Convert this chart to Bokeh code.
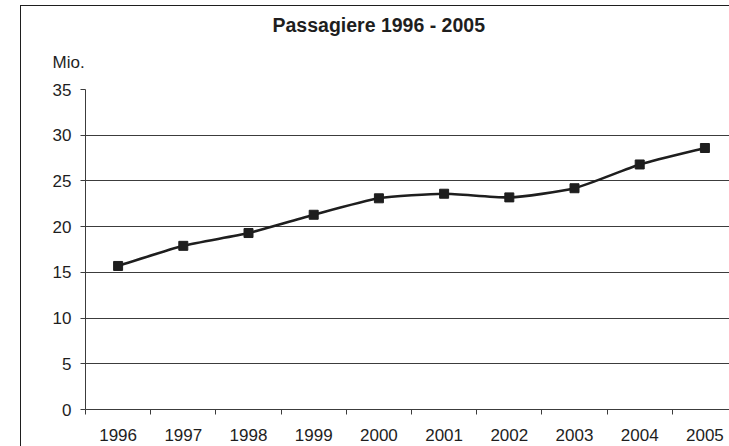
from bokeh.plotting import figure
from bokeh.models import Range1d, FixedTicker, Title, GlobalInlineStyleSheet
from bokeh.embed import file_html
from bokeh.resources import INLINE

# Passengers per year, in millions
years = ["1996", "1997", "1998", "1999", "2000", "2001", "2002", "2003", "2004", "2005"]
passengers = [15.7, 17.9, 19.3, 21.3, 23.1, 23.6, 23.2, 24.2, 26.8, 28.6]
y_ticks = [0, 5, 10, 15, 20, 25, 30, 35]

FONT = "Liberation Sans"
INK = "#1e1e1e"
GRID = "#3c3c3c"

# category centres on a numeric axis (one unit per year)
xs = [i + 0.5 for i in range(len(years))]

p = figure(width=729, height=446, output_backend="svg", toolbar_location=None,
           x_range=Range1d(0, 9.877), y_range=Range1d(0, 35),
           min_border_left=85, min_border_right=0, min_border_top=89,
           min_border_bottom=37, title=None)
p.outline_line_color = None
p.background_fill_color = "white"
p.border_fill_color = None
# chart frame: thin left and top edges painted behind the transparent border area
p.styles = {"background": (f"linear-gradient({INK}, {INK}) 20px 5px / 1px 100% no-repeat, "
                           f"linear-gradient({INK}, {INK}) 20px 5px / 100% 1px no-repeat, "
                           "#ffffff")}
# the page itself never scrolls
p.stylesheets = [GlobalInlineStyleSheet(css="html, body { margin: 0; overflow: hidden; }")]

# y axis
p.yaxis.ticker = FixedTicker(ticks=y_ticks)
p.yaxis.axis_line_color = GRID
p.yaxis.major_tick_line_color = GRID
p.yaxis.major_tick_out = 5
p.yaxis.major_tick_in = 0
p.yaxis.minor_tick_line_color = None
p.yaxis.major_label_standoff = 9
p.yaxis.major_label_text_font = FONT
p.yaxis.major_label_text_font_size = "17px"
p.yaxis.major_label_text_color = INK

# x axis: labels centred on each year, small ticks between years
p.xaxis.ticker = FixedTicker(ticks=xs, minor_ticks=list(range(0, len(years))))
p.xaxis.major_label_overrides = {x: y for x, y in zip(xs, years)}
p.xaxis.axis_line_color = GRID
p.xaxis.major_tick_line_color = None
p.xaxis.major_tick_out = 0
p.xaxis.major_tick_in = 0
p.xaxis.minor_tick_line_color = GRID
p.xaxis.minor_tick_out = 5
p.xaxis.minor_tick_in = 0
p.xaxis.major_label_standoff = 14
p.xaxis.major_label_text_font = FONT
p.xaxis.major_label_text_font_size = "17px"
p.xaxis.major_label_text_color = INK

p.xgrid.visible = False
p.ygrid.grid_line_color = GRID
p.ygrid.grid_line_width = 1

# lightly smoothed line through the yearly values (Bezier segments)
k = 1 / 10
n = len(xs)
x0, y0, x1, y1, cx0, cy0, cx1, cy1 = [], [], [], [], [], [], [], []
for i in range(n - 1):
    xp, yp = (xs[i - 1], passengers[i - 1]) if i > 0 else (xs[i], passengers[i])
    xn, yn = (xs[i + 2], passengers[i + 2]) if i + 2 < n else (xs[i + 1], passengers[i + 1])
    x0.append(xs[i]); y0.append(passengers[i])
    x1.append(xs[i + 1]); y1.append(passengers[i + 1])
    cx0.append(xs[i] + (xs[i + 1] - xp) * k); cy0.append(passengers[i] + (passengers[i + 1] - yp) * k)
    cx1.append(xs[i + 1] - (xn - xs[i]) * k); cy1.append(passengers[i + 1] - (yn - passengers[i]) * k)

p.bezier(x0=x0, y0=y0, x1=x1, y1=y1, cx0=cx0, cy0=cy0, cx1=cx1, cy1=cy1,
         line_color=INK, line_width=2.6)
p.scatter(xs, passengers, marker="square", size=9, fill_color=INK, line_color=INK)

# unit label (closest to the plot) and chart title above it
p.add_layout(Title(text="Mio.", align="left", offset=-33, vertical_align="top",
                   text_font=FONT, text_font_size="17px",
                   text_font_style="normal", text_color=INK, standoff=31), "above")
p.add_layout(Title(text="Passagiere 1996 - 2005", align="left", offset=187,
                   vertical_align="top", text_font=FONT,
                   text_font_size="19.5px", text_font_style="bold",
                   text_color=INK, standoff=0), "above")

open("out.html", "w").write(file_html(p, INLINE))
